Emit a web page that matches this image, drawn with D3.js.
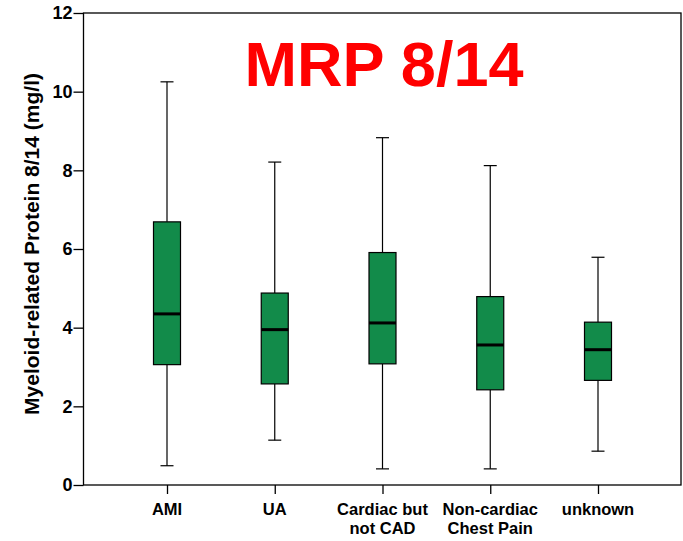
<!DOCTYPE html>
<html>
<head>
<meta charset="utf-8">
<script src="https://cdn.jsdelivr.net/npm/d3@7"></script>
<style>
	body { margin: 0; background: #fff; }
	text { font-family: 'Liberation Sans', Arial, sans-serif; }
</style>
</head>
<body>
<div id="chart"></div>
<script>
const categories = [['AMI'], ['UA'], ['Cardiac but', 'not CAD'], ['Non-cardiac', 'Chest Pain'], ['unknown']]
const whiskerLow = [0.49, 1.14, 0.41, 0.41, 0.86]
const q1 = [3.06, 2.57, 3.08, 2.42, 2.66]
const median = [4.35, 3.95, 4.12, 3.56, 3.44]
const q3 = [6.69, 4.88, 5.91, 4.79, 4.14]
const whiskerHigh = [10.25, 8.21, 8.83, 8.12, 5.79]
const yTicks = [0, 2, 4, 6, 8, 10, 12]

const width = 683
const height = 541
const svg = d3.select('#chart').append('svg').attr('width', width).attr('height', height)

const plotLeft = 83.5, plotRight = 681, plotTop = 13, plotBottom = 485

const y = d3.scaleLinear().domain([0, 12]).range([plotBottom, plotTop])
const x = d3.scalePoint().domain(d3.range(categories.length)).range([167, 598])

// frame
svg.append('rect')
	.attr('x', plotLeft).attr('y', plotTop)
	.attr('width', plotRight - plotLeft).attr('height', plotBottom - plotTop)
	.attr('fill', 'none').attr('stroke', '#000').attr('stroke-width', 1.3)

// y axis
const yAxis = svg.append('g').attr('transform', `translate(${plotLeft},0)`)
	.call(d3.axisLeft(y).tickValues(yTicks).tickSize(10).tickPadding(1))
yAxis.select('.domain').remove()
yAxis.selectAll('line').attr('stroke', '#000').attr('stroke-width', 1.3)
yAxis.selectAll('text').attr('font-size', '18px').attr('font-weight', 'bold').attr('fill', '#000')

// x axis
const xAxis = svg.append('g').attr('transform', `translate(0,${plotBottom})`)
	.call(d3.axisBottom(x).tickSize(9).tickFormat(''))
xAxis.select('.domain').remove()
xAxis.selectAll('line').attr('stroke', '#000').attr('stroke-width', 1.3)

categories.forEach((lines, i) => {
	lines.forEach((l, j) => {
		svg.append('text')
			.attr('x', x(i)).attr('y', 515 + j * 19)
			.attr('text-anchor', 'middle')
			.attr('font-size', '16.5px').attr('font-weight', 'bold')
			.text(l)
	})
})

// y label
svg.append('text')
	.attr('transform', `translate(39,244) rotate(-90)`)
	.attr('text-anchor', 'middle')
	.attr('font-size', '21px').attr('font-weight', 'bold')
	.text('Myeloid-related Protein 8/14 (mg/l)')

// boxes
const boxW = 27, capW = 13
const g = svg.append('g')
categories.forEach((c, i) => {
	const cx = x(i)
	g.append('line').attr('x1', cx).attr('x2', cx)
		.attr('y1', y(whiskerHigh[i])).attr('y2', y(q3[i]))
		.attr('stroke', '#000').attr('stroke-width', 1.2)
	g.append('line').attr('x1', cx).attr('x2', cx)
		.attr('y1', y(q1[i])).attr('y2', y(whiskerLow[i]))
		.attr('stroke', '#000').attr('stroke-width', 1.2)
	g.append('line').attr('x1', cx - capW / 2).attr('x2', cx + capW / 2)
		.attr('y1', y(whiskerHigh[i])).attr('y2', y(whiskerHigh[i]))
		.attr('stroke', '#000').attr('stroke-width', 1.2)
	g.append('line').attr('x1', cx - capW / 2).attr('x2', cx + capW / 2)
		.attr('y1', y(whiskerLow[i])).attr('y2', y(whiskerLow[i]))
		.attr('stroke', '#000').attr('stroke-width', 1.2)
	g.append('rect')
		.attr('x', cx - boxW / 2).attr('y', y(q3[i]))
		.attr('width', boxW).attr('height', y(q1[i]) - y(q3[i]))
		.attr('fill', '#128b4a').attr('stroke', '#000').attr('stroke-width', 1.2)
	g.append('line').attr('x1', cx - boxW / 2).attr('x2', cx + boxW / 2)
		.attr('y1', y(median[i])).attr('y2', y(median[i]))
		.attr('stroke', '#000').attr('stroke-width', 3)
})

// title
svg.append('text')
	.attr('x', 384).attr('y', 86)
	.attr('text-anchor', 'middle')
	.attr('font-size', '63px').attr('font-weight', 'bold')
	.attr('fill', '#ff0000')
	.text('MRP 8/14')
</script>
</body>
</html>
